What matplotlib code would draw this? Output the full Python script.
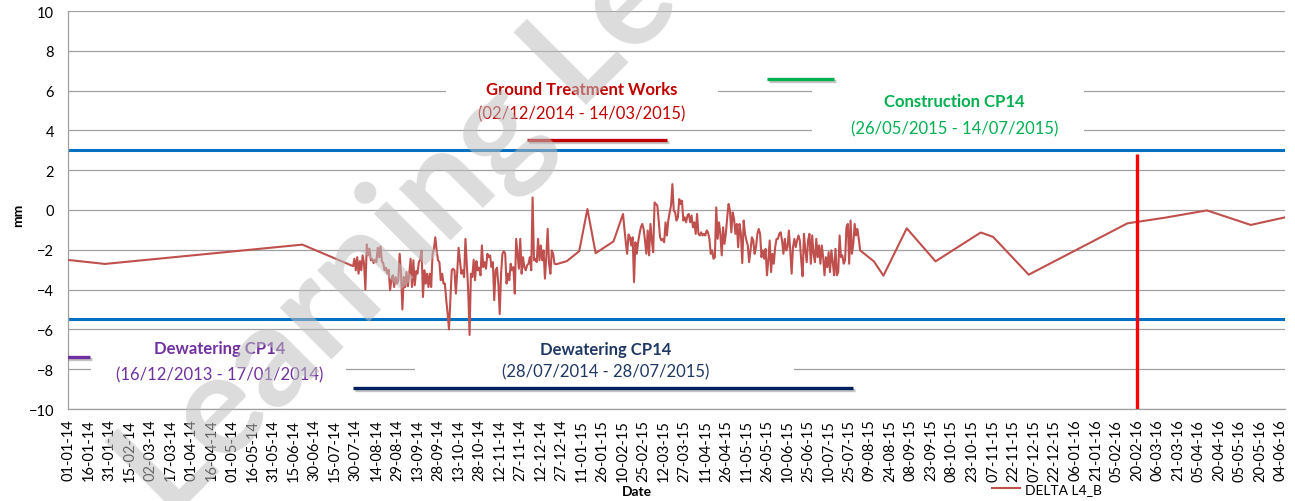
import matplotlib
matplotlib.use('Agg')
import matplotlib.pyplot as plt
import matplotlib.dates as mdates
import matplotlib.patheffects as pe
from matplotlib.patches import Rectangle
import pandas as pd
import numpy as np

plt.rcParams['font.family'] = ['Lato', 'DejaVu Sans']

# ---------------- data ----------------
early_dates = ['2014-01-01', '2014-01-28', '2014-06-21', '2014-07-28']
early_vals = [-2.51, -2.71, -1.74, -2.82]

dense1_start = '2014-07-29'
dense1_vals = [
    -2.45, -3.03, -2.37, -3.2, -2.57, -3.03, -2.28, -2.7, -4.0, -1.73,
    -2.28, -1.95, -2.53, -2.45, -2.67, -2.5, -2.62, -1.9, -2.37, -1.83,
    -2.57, -2.67, -3.03, -2.9, -3.2, -3.0, -4.03, -3.5, -3.28, -3.87,
    -3.37, -3.7, -3.53, -2.2, -3.2, -5.0, -3.37, -3.87, -3.12, -3.83,
    -3.2, -2.45, -3.87, -2.53, -3.78, -3.07, -3.2, -2.62, -2.5, -2.03,
    -4.37, -3.03, -3.7, -3.2, -3.87, -3.2, -3.87, -2.2, -1.95, -1.37,
    -2.03, -2.53, -2.62, -3.53, -3.2, -3.7, -3.7, -4.53, -5.2, -6.0,
    -4.53, -3.03, -2.95, -3.03, -4.2, -3.12, -1.9, -2.53, -3.2, -3.03,
    -3.37, -1.45, -2.7, -4.03, -6.28, -3.2, -3.37, -2.5, -3.53, -2.57,
    -3.03, -2.9, -3.28, -1.78, -2.87, -2.62, -2.95, -2.2, -2.37, -2.28,
    -2.87, -2.62, -4.53, -3.03, -2.9, -3.7, -5.23, -3.2, -2.2, -2.07,
    -2.2, -3.7, -3.2, -3.53, -2.7, -3.03, -2.87, -4.2, -1.45, -2.2,
    -2.95, -1.45, -3.2, -2.37, -2.87, -3.03, -2.78, -2.7, -2.37, -3.03,
    0.63, -2.53, -2.45, -2.62, -1.45, -2.53, -1.78, -2.53, -2.03, -3.45,
    -2.37, -0.95, -2.7, -3.2, -2.03, -2.2, -2.7, -2.73]

mid_dates = ['2014-12-31', '2015-01-09', '2015-01-15', '2015-01-21', '2015-02-03']
mid_vals = [-2.57, -2.07, 0.05, -2.17, -1.58]

dense2_start = '2015-02-10'
dense2_vals = [
    -0.2, -0.95, -1.62, -2.2, -1.23, -1.37, -1.78, -1.37, -3.62, -1.62,
    -2.2, -1.62, -1.2, -0.87, -0.7, -0.95, -1.53, -2.2, -1.03, -2.28,
    -0.7, -1.53, -2.12, 0.38, 0.3, 0.22, -0.53, -1.37, -1.53, -1.45,
    -1.62, -0.62, -1.28, -0.53, -0.12, 0.22, 1.3, -0.03, -0.12, -0.53,
    -0.37, 0.55, 0.3, 0.47, -0.53, -0.37, -0.62, -0.28, -0.2, -0.62,
    -0.28, -0.87, -0.62, -1.2, -0.2, -1.2, -1.28, -1.12, -1.28, -1.2,
    -1.28, -1.03, -1.12, -1.45, -2.2, -2.03, -2.45, -2.37, 0.13, -1.45,
    -0.62, -1.2, -2.28, -0.87, -1.7, -1.2, -0.37, 0.3, -0.03, -1.12,
    -0.12, -0.45, -1.2, -0.7, -1.87, -0.7, -1.2, -2.67, -0.53, -1.2,
    -1.53, -1.78, -2.62, -2.03, -1.37, -1.53, -2.2, -1.87, -1.2, -0.95,
    -1.2, -2.37, -2.03, -2.45, -1.95, -3.28, -2.53, -1.53, -3.12, -2.2,
    -2.7, -1.87, -1.45, -1.45, -1.2, -1.12, -1.53, -2.2, -1.45, -2.03,
    -1.87, -1.03, -2.03, -3.2, -1.87, -1.45, -1.87, -1.53, -1.28, -1.53,
    -2.53, -3.33, -1.2, -2.03, -2.62, -1.53, -1.2, -2.7, -1.28, -2.2,
    -2.62, -1.45, -2.37, -1.78, -2.7, -1.78, -2.37, -3.28, -2.37, -2.87,
    -2.12, -3.12, -2.03, -2.62, -3.28, -1.95, -3.28, -3.12, -1.28, -2.37,
    -2.28, -2.7, -2.53, -0.87, -0.7, -2.7, -0.53, -2.2, -1.7, -0.7,
    -1.28, -0.95, -1.45, -2.03]

late_dates = ['2015-08-12', '2015-08-19', '2015-09-05', '2015-09-26', '2015-10-29',
              '2015-11-07', '2015-12-03', '2016-02-13', '2016-03-12', '2016-04-11',
              '2016-05-13', '2016-06-07']
late_vals = [-2.58, -3.3, -0.92, -2.58, -1.13, -1.35, -3.25, -0.67, -0.38, -0.02,
             -0.75, -0.37]

series_name = 'DELTA L4_B'
limit_upper = 3.0
limit_lower = -5.5
marker_date = '2016-02-20'
marker_top = 2.8

periods = {
    'ground': ('02/12/2014', '14/03/2015'),
    'construction': ('26/05/2015', '14/07/2015'),
    'dewater1': ('16/12/2013', '17/01/2014'),
    'dewater2': ('28/07/2014', '28/07/2015'),
}

tick_start = '2014-01-01'
tick_count = 60
tick_step_days = 15

# ---------------- build series ----------------
d = pd.to_datetime
dates = list(d(early_dates)) + \
    list(pd.date_range(dense1_start, periods=len(dense1_vals), freq='D')) + \
    list(d(mid_dates)) + \
    list(pd.date_range(dense2_start, periods=len(dense2_vals), freq='D')) + \
    list(d(late_dates))
vals = early_vals + dense1_vals + mid_vals + dense2_vals + late_vals

def pdate(s):
    return pd.to_datetime(s, dayfirst=True)

# ---------------- figure ----------------
W, H = 1295, 502
fig = plt.figure(figsize=(W / 100, H / 100), dpi=100)
ax = fig.add_axes([68 / W, 1 - 410 / H, (1285 - 68) / W, (410 - 12) / H])
ax.set_facecolor('white')

grid_c = '#a0a0a0'
ax.set_ylim(-10, 10)
ax.set_yticks(range(-10, 11, 2))
ax.yaxis.grid(True, color=grid_c, lw=0.9, zorder=0)
ax.set_axisbelow(True)
ax.set_xlim(d(tick_start), d(late_dates[-1]))

ticks = pd.date_range(tick_start, periods=tick_count, freq=f'{tick_step_days}D')
ax.set_xticks(ticks)
ax.set_xticklabels([t.strftime('%d-%m-%y') for t in ticks], rotation=90, fontsize=10.5)
ax.tick_params(axis='x', length=0, pad=7)
ax.tick_params(axis='y', length=0, pad=10, labelsize=10.5)
for s in ['top', 'right']:
    ax.spines[s].set_visible(False)
for s in ['left', 'bottom']:
    ax.spines[s].set_color(grid_c)
    ax.spines[s].set_linewidth(0.9)

# white boxes behind annotation texts (hide gridlines)
def wbox(x0, x1, y0, y1):
    a = mdates.date2num(d(x0))
    b = mdates.date2num(d(x1))
    ax.add_patch(Rectangle((a, y0), b - a, y1 - y0, facecolor='white',
                           edgecolor='none', zorder=1.5))

wbox('2014-10-04', '2015-04-20', 4.3, 6.7)
wbox('2015-06-28', '2016-01-12', 3.6, 6.3)
wbox('2014-01-18', '2014-07-23', -8.9, -6.4)
wbox('2014-09-11', '2015-06-15', -8.9, -6.4)

# limit lines
ax.axhline(limit_upper, color='#0070C0', lw=2.2, zorder=2)
ax.axhline(limit_lower, color='#0070C0', lw=2.2, zorder=2)

# data series
ax.plot(dates, vals, color='#C0504D', lw=1.5, zorder=4, label=series_name)

# red vertical marker
ax.plot([d(marker_date), d(marker_date)], [-10, marker_top], color='#FF0000',
        lw=2.4, zorder=5, solid_capstyle='butt')

# period bars
shadow = [pe.SimpleLineShadow(offset=(1.2, -1.5), shadow_color='#808080', alpha=0.45),
          pe.Normal()]
def pbar(key, y, color):
    s, e = periods[key]
    ax.plot([pdate(s), pdate(e)], [y, y], color=color, lw=2.4,
            solid_capstyle='butt', zorder=3, path_effects=shadow)

pbar('ground', 3.52, '#C00000')
pbar('construction', 6.58, '#00B050')
pbar('dewater1', -7.39, '#7030A0')
pbar('dewater2', -8.94, '#002060')

# annotation texts
def ann(xc, y1, y2, title, key, color):
    s, e = periods[key]
    ax.text(d(xc), y1, title, ha='center', va='center', fontsize=12,
            fontweight='bold', color=color, zorder=6)
    ax.text(d(xc), y2, f'({s} - {e})', ha='center', va='center', fontsize=12,
            color=color, zorder=6)

ann('2015-01-11', 6.08, 4.88, 'Ground Treatment Works', 'ground', '#C00000')
ann('2015-10-10', 5.48, 4.12, 'Construction CP14', 'construction', '#00B050')
ann('2014-04-22', -6.93, -8.24, 'Dewatering CP14', 'dewater1', '#7030A0')
ann('2015-01-28', -6.98, -8.09, 'Dewatering CP14', 'dewater2', '#203864')

# axis titles
fig.text(18 / W, 1 - 215 / H, 'mm', rotation=90, ha='center', va='center',
         fontsize=10, fontweight='bold')
fig.text(637 / W, 1 - 492 / H, 'Date', ha='center', va='center',
         fontsize=10, fontweight='bold')

# legend
fig.legend(loc='center', bbox_to_anchor=(1047 / W, 1 - 490 / H), frameon=False,
           fontsize=10, handlelength=2.0, handletextpad=0.4, borderpad=0)

# watermark
fig.text(170 / W, 1 - 522 / H, 'Learning Lessons', rotation=45,
         rotation_mode='anchor', ha='left', va='baseline', fontsize=102,
         fontweight='bold', color='#bfbfbf', alpha=0.55, zorder=10)

fig.savefig('out.png', dpi=100)
